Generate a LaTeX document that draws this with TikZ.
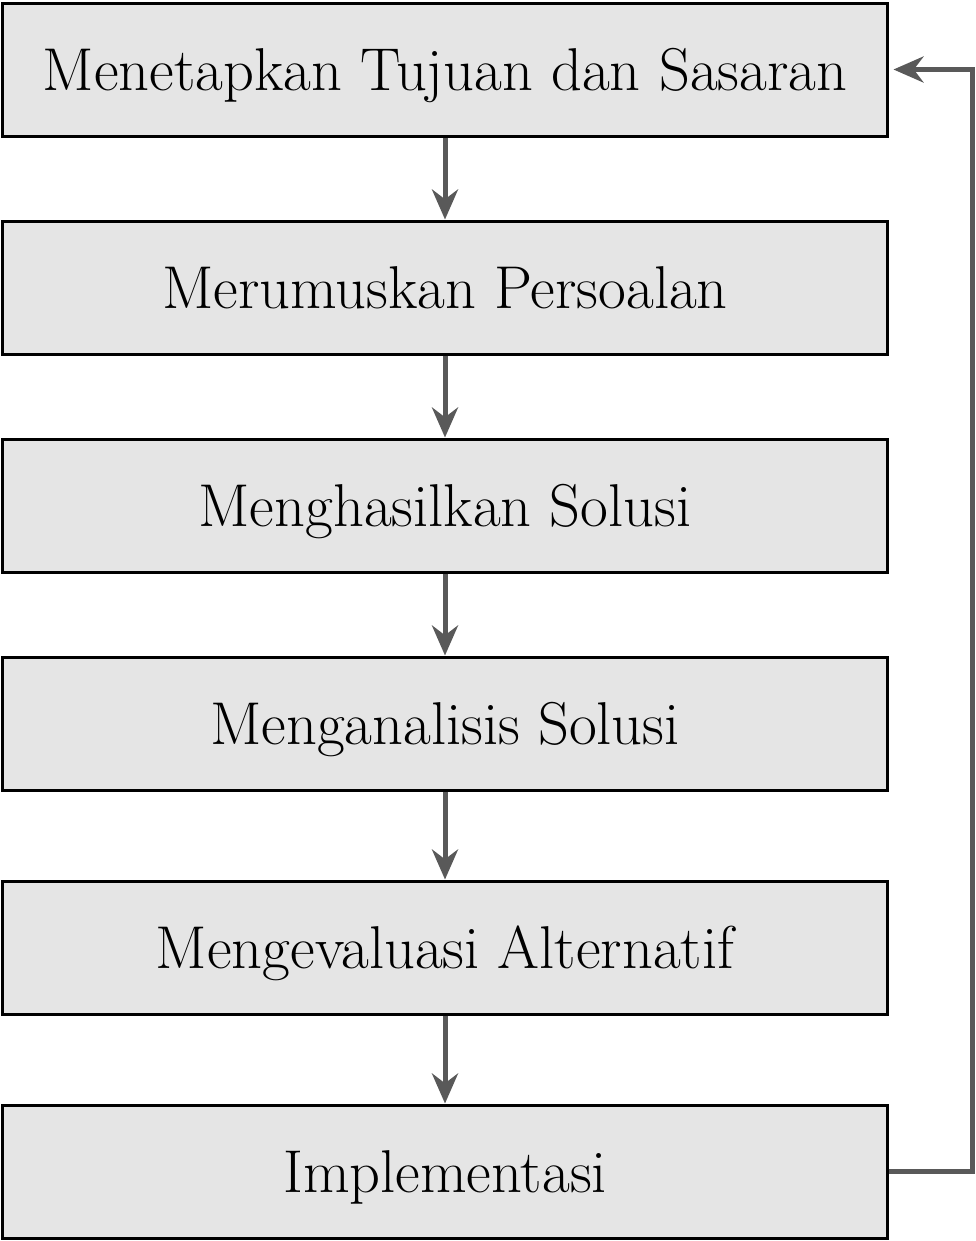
\documentclass[tikz,border=0pt]{standalone}
\usepackage{tikz}
\usetikzlibrary{arrows.meta}
\usetikzlibrary{positioning}

\begin{document}
\begin{tikzpicture}
		\tikzset{stepbox/.style={draw=black,line width=0.03cm,fill=black!10,
			minimum width=8.84cm,minimum height=1.33cm,inner sep=0pt,
			text height=11.7pt,text depth=0pt,
			font=\fontsize{17.2}{20}\selectfont}}
		\tikzset{flow/.style={draw=black!65,line width=0.05cm,-{Stealth[length=0.3cm,width=0.26cm]}}}
		\useasboundingbox (0,0) rectangle (9.75,-12.41);
		\node[stepbox] (tujuan) at (4.45,-0.695) {Menetapkan Tujuan dan Sasaran};
		\node[stepbox,below=0.82cm of tujuan] (rumus) {Merumuskan Persoalan};
		\node[stepbox,below=0.82cm of rumus] (hasil) {Menghasilkan Solusi};
		\node[stepbox,below=0.82cm of hasil] (analisis) {Menganalisis Solusi};
		\node[stepbox,below=0.88cm of analisis] (evaluasi) {Mengevaluasi Alternatif};
		\node[stepbox,below=0.88cm of evaluasi] (impl) {Implementasi};
		\coordinate (balik) at (9.725,0);
		\draw[flow] (tujuan) -- (rumus);
		\draw[flow] (rumus) -- (hasil);
		\draw[flow] (hasil) -- (analisis);
		\draw[flow] (analisis) -- (evaluasi);
		\draw[flow] (evaluasi) -- (impl);
		\draw[flow,shorten >=0.05cm] (impl.east) -- (impl.east -| balik)
			-- (tujuan.east -| balik) -- (tujuan.east);
\end{tikzpicture}
\end{document}
